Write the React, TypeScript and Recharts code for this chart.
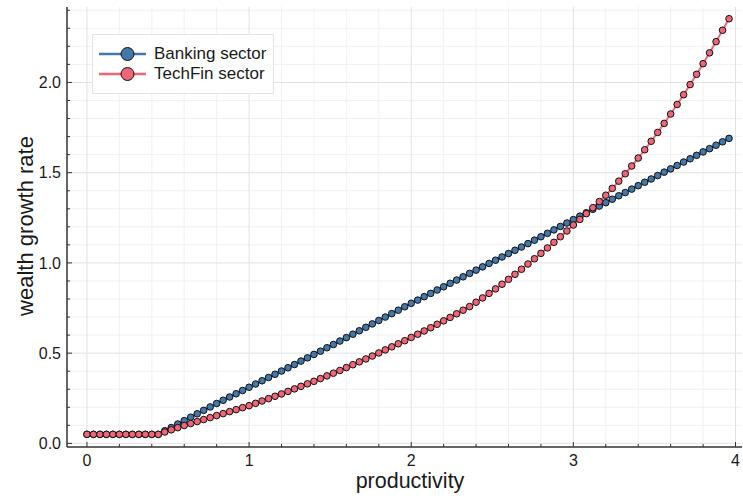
import { LineChart, Line, XAxis, YAxis, CartesianGrid, Legend } from 'recharts';

const FONT = '"Liberation Sans", Arial, Helvetica, sans-serif';

// productivity grid (step 0.04)
const productivity = [
  0, 0.04, 0.08, 0.12, 0.16, 0.2, 0.24, 0.28, 0.32, 0.36, 0.4, 0.44, 0.48, 0.52, 0.56, 0.6, 0.64, 0.68, 0.72, 0.76,
  0.8, 0.84, 0.88, 0.92, 0.96, 1, 1.04, 1.08, 1.12, 1.16, 1.2, 1.24, 1.28, 1.32, 1.36, 1.4, 1.44, 1.48, 1.52, 1.56,
  1.6, 1.64, 1.68, 1.72, 1.76, 1.8, 1.84, 1.88, 1.92, 1.96, 2, 2.04, 2.08, 2.12, 2.16, 2.2, 2.24, 2.28, 2.32, 2.36,
  2.4, 2.44, 2.48, 2.52, 2.56, 2.6, 2.64, 2.68, 2.72, 2.76, 2.8, 2.84, 2.88, 2.92, 2.96, 3, 3.04, 3.08, 3.12, 3.16,
  3.2, 3.24, 3.28, 3.32, 3.36, 3.4, 3.44, 3.48, 3.52, 3.56, 3.6, 3.64, 3.68, 3.72, 3.76, 3.8, 3.84, 3.88, 3.92, 3.96,
];

const banking = [
  0.05, 0.05, 0.05, 0.05, 0.05, 0.05, 0.05, 0.05, 0.05, 0.05, 0.05, 0.05, 0.07, 0.088, 0.107, 0.126, 0.145, 0.164, 0.183, 0.202,
  0.221, 0.239, 0.257, 0.275, 0.293, 0.311, 0.329, 0.347, 0.365, 0.383, 0.401, 0.419, 0.437, 0.456, 0.474, 0.493, 0.511, 0.53, 0.548, 0.567,
  0.586, 0.605, 0.624, 0.643, 0.662, 0.681, 0.7, 0.719, 0.738, 0.757, 0.776, 0.794, 0.813, 0.831, 0.85, 0.868, 0.887, 0.905, 0.923, 0.942,
  0.96, 0.978, 0.997, 1.015, 1.033, 1.052, 1.07, 1.088, 1.107, 1.126, 1.145, 1.164, 1.183, 1.202, 1.221, 1.24, 1.259, 1.278, 1.297, 1.315,
  1.334, 1.353, 1.372, 1.39, 1.409, 1.428, 1.447, 1.465, 1.484, 1.503, 1.521, 1.54, 1.559, 1.577, 1.596, 1.615, 1.633, 1.652, 1.671, 1.69,
];

const techfin = [
  0.05, 0.05, 0.05, 0.05, 0.05, 0.05, 0.05, 0.05, 0.05, 0.05, 0.05, 0.05, 0.063, 0.075, 0.087, 0.099, 0.11, 0.121, 0.132, 0.143,
  0.154, 0.165, 0.176, 0.187, 0.198, 0.209, 0.222, 0.235, 0.248, 0.261, 0.274, 0.288, 0.302, 0.316, 0.33, 0.344, 0.359, 0.374, 0.389, 0.404,
  0.42, 0.436, 0.452, 0.468, 0.484, 0.501, 0.518, 0.535, 0.552, 0.569, 0.587, 0.605, 0.623, 0.641, 0.66, 0.679, 0.698, 0.718, 0.738, 0.758,
  0.782, 0.806, 0.831, 0.856, 0.882, 0.909, 0.937, 0.965, 0.994, 1.023, 1.053, 1.083, 1.114, 1.145, 1.177, 1.21, 1.241, 1.273, 1.306, 1.34,
  1.375, 1.413, 1.453, 1.494, 1.537, 1.581, 1.627, 1.674, 1.723, 1.773, 1.825, 1.878, 1.932, 1.988, 2.045, 2.104, 2.164, 2.226, 2.289, 2.353,
];

const xMajor = [0, 1, 2, 3, 4];
const xMinor = [0.2, 0.4, 0.6, 0.8, 1.2, 1.4, 1.6, 1.8, 2.2, 2.4, 2.6, 2.8, 3.2, 3.4, 3.6, 3.8];
const yMajor = [0, 0.5, 1, 1.5, 2];
const yMinor = [0.1, 0.2, 0.3, 0.4, 0.6, 0.7, 0.8, 0.9, 1.1, 1.2, 1.3, 1.4, 1.6, 1.7, 1.8, 1.9, 2.1, 2.2, 2.3, 2.4];

const xTicks = [...xMajor, ...xMinor].sort((a, b) => a - b);
const yTicks = [...yMajor, ...yMinor].sort((a, b) => a - b);

const data = productivity.map((x, i) => ({ x, banking: banking[i], techfin: techfin[i] }));

const isMajor = (list: number[], v: number) => list.some((m) => Math.abs(m - v) < 1e-9);

const XTick = (props: any) => {
  const { x, y, payload } = props;
  const major = isMajor(xMajor, payload.value);
  const axisY = y - 8;
  return (
    <g>
      <line x1={x} x2={x} y1={axisY} y2={axisY - (major ? 5 : 3)} stroke="#333" strokeWidth={1} />
      {major && (
        <text x={x} y={y} dy="0.71em" textAnchor="middle" fontSize={16} fontFamily={FONT} fill="#1a1a1a">
          {payload.value}
        </text>
      )}
    </g>
  );
};

const YTick = (props: any) => {
  const { x, y, payload } = props;
  const major = isMajor(yMajor, payload.value);
  const axisX = x + 6;
  return (
    <g>
      <line x1={axisX} x2={axisX + (major ? 5 : 3)} y1={y} y2={y} stroke="#333" strokeWidth={1} />
      {major && (
        <text x={x} y={y} dy="0.36em" textAnchor="end" fontSize={16} fontFamily={FONT} fill="#1a1a1a">
          {payload.value.toFixed(1)}
        </text>
      )}
    </g>
  );
};

const LegendBox = (props: any) => {
  const { payload } = props;
  return (
    <div
      style={{
        width: 182,
        boxSizing: 'border-box',
        border: '1px solid #e4e4e4',
        background: '#fff',
        padding: '9px 6px',
        fontFamily: FONT,
        fontSize: 17,
        color: '#1a1a1a',
      }}
    >
      {(payload || []).map((entry: any) => (
        <div key={entry.value} style={{ display: 'flex', alignItems: 'center', height: 20 }}>
          <svg width={47} height={16}>
            <line x1={0} x2={47} y1={8} y2={8} stroke={entry.color} strokeWidth={2.5} />
            <circle cx={28.5} cy={8} r={6.5} fill={entry.color} stroke="#111" strokeWidth={1} />
          </svg>
          <span style={{ marginLeft: 8, lineHeight: '20px' }}>{entry.value}</span>
        </div>
      ))}
    </div>
  );
};

export default function App() {
  return (
    <div style={{ position: 'absolute', left: 0, top: 0, width: 743, height: 500, background: '#fff' }}>
      <LineChart width={743} height={500} data={data} margin={{ top: 7, right: 1, bottom: 0, left: 0 }}>
        <CartesianGrid verticalValues={xMinor} horizontalValues={yMinor} stroke="#f1f1f1" strokeWidth={1} />
        <CartesianGrid verticalValues={xMajor} horizontalValues={yMajor} stroke="#e2e2e2" strokeWidth={1} />
        <XAxis
          dataKey="x"
          type="number"
          domain={[-0.123, 4.04]}
          allowDataOverflow
          ticks={xTicks}
          interval={0}
          tick={<XTick />}
          tickLine={false}
          tickSize={0}
          tickMargin={8}
          height={53}
          axisLine={{ stroke: '#333', strokeWidth: 1.5 }}
          label={{
            content: () => (
              <text x={410} y={488} textAnchor="middle" fontSize={21.5} fontFamily={FONT} fill="#1a1a1a">
                productivity
              </text>
            ),
          }}
        />
        <XAxis
          xAxisId="top"
          orientation="top"
          dataKey="x"
          type="number"
          domain={[-0.123, 4.04]}
          allowDataOverflow
          height={0}
          tick={false}
          tickLine={false}
          axisLine={{ stroke: '#333', strokeWidth: 1.5 }}
        />
        <YAxis
          type="number"
          domain={[-0.02, 2.418]}
          allowDataOverflow
          ticks={yTicks}
          interval={0}
          tick={<YTick />}
          tickLine={false}
          tickSize={0}
          tickMargin={6}
          width={67}
          axisLine={{ stroke: '#333', strokeWidth: 1.5 }}
          label={{
            content: () => (
              <text
                transform="translate(33,226) rotate(-90)"
                x={0}
                y={0}
                textAnchor="middle"
                fontSize={22}
                fontFamily={FONT}
                fill="#1a1a1a"
              >
                wealth growth rate
              </text>
            ),
          }}
        />
        <Legend
          layout="horizontal"
          verticalAlign="middle"
          align="center"
          content={<LegendBox />}
          wrapperStyle={{ left: 92, top: 34, width: 182 }}
        />
        <Line
          dataKey="banking"
          name="Banking sector"
          stroke="#4477AA"
          strokeWidth={2}
          dot={{ r: 3.3, fill: '#4477AA', stroke: '#111', strokeWidth: 1 }}
          isAnimationActive={false}
        />
        <Line
          dataKey="techfin"
          name="TechFin sector"
          stroke="#EE6677"
          strokeWidth={2}
          dot={{ r: 3.3, fill: '#EE6677', stroke: '#111', strokeWidth: 1 }}
          isAnimationActive={false}
        />
      </LineChart>
    </div>
  );
}
